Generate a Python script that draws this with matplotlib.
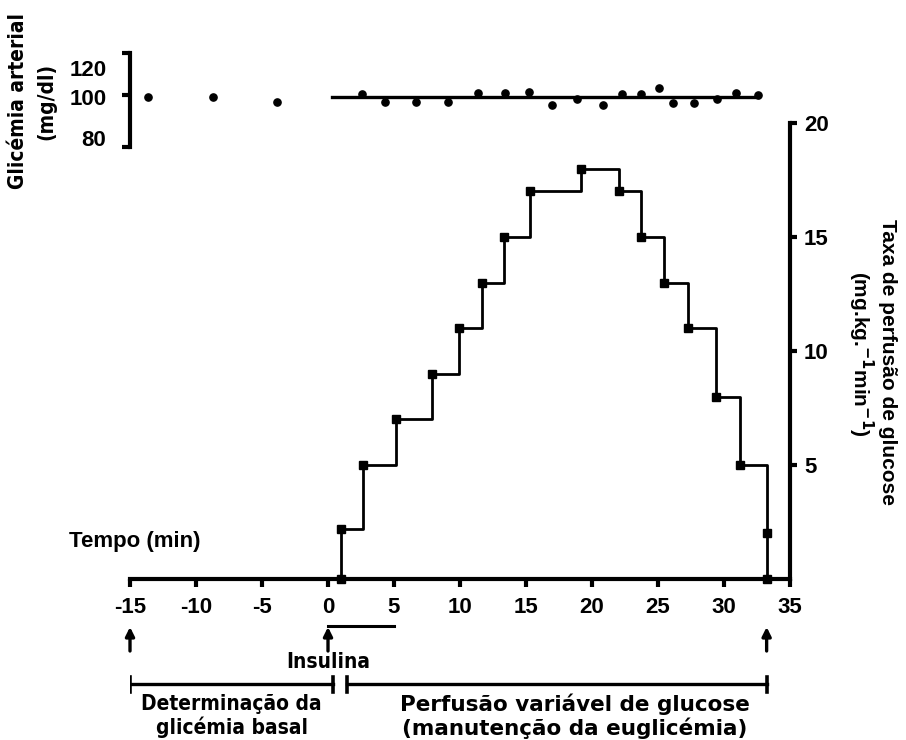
import matplotlib
matplotlib.use("Agg")
import matplotlib.pyplot as plt
from matplotlib.transforms import ScaledTranslation

# glucose infusion rate (mg.kg-1.min-1), steps start at each time point
gir_t = [1.0, 1.0, 2.65, 5.18, 7.88, 9.93, 11.68, 13.37, 15.34, 19.16, 22.04,
         23.68, 25.47, 27.24, 29.39, 31.21, 33.23, 33.23]
gir = [0, 2.2, 5, 7, 9, 11, 13, 15, 17, 18, 17, 15, 13, 11, 8, 5, 2, 0]

# arterial glycaemia (mg/dl)
glyc_t = [-13.6, -8.7, -3.9, 2.6, 4.3, 6.7, 9.1, 11.4, 13.4, 15.2, 17.0, 18.9,
          20.8, 22.3, 23.7, 25.1, 26.1, 27.7, 29.5, 30.9, 32.6]
glyc = [99.2, 99.2, 97.3, 100.4, 97.3, 97.3, 97.3, 100.8, 100.8, 101.2, 96.2,
        98.5, 96.2, 100.4, 100.4, 102.7, 96.9, 96.9, 98.5, 100.8, 100.0]
glyc_target = 99.2
clamp_span = [0.3, 32.6]

x_ticks = [-15, -10, -5, 0, 5, 10, 15, 20, 25, 30, 35]
gir_ticks = [5, 10, 15, 20]
glyc_ticks = [80, 100, 116.2]
glyc_ticklabels = ["80", "100", "120"]

insulin_span = [0, 5]
arrow_t = [-15, 0, 33.23]
basal_span = [-15, 0.38]
infusion_span = [1.44, 33.23]

W, H = 906, 740
bold = dict(family="Liberation Sans", weight="bold")
narrow = dict(family="DejaVu Sans", weight="bold", stretch="condensed")
wide = dict(family="DejaVu Sans", weight="bold")


def fx(px):
    return px / W


def fy(py):
    return 1 - py / H


fig = plt.figure(figsize=(W / 100, H / 100), dpi=100)

# main axes: infusion rate
ax = fig.add_axes([fx(130), fy(579), fx(660), 456 / H])
ax.set_xlim(-15, 35)
ax.set_ylim(0, 20)
ax.plot(gir_t, gir, drawstyle="steps-post", color="k", lw=2.0,
        clip_on=False, zorder=4)
ax.plot(gir_t, gir, ls="none", marker="s", ms=5.5, color="k",
        clip_on=False, zorder=5)

ax.spines["left"].set_visible(False)
ax.spines["top"].set_visible(False)
ax.spines["bottom"].set_linewidth(3)
ax.spines["right"].set_linewidth(3)
ax.spines["bottom"].set_bounds(-15, 35)
ax.spines["right"].set_bounds(0, 20)
ax.yaxis.tick_right()
ax.set_xticks(x_ticks)
ax.set_xticklabels([str(t) for t in x_ticks], **bold, fontsize=16)
ax.set_yticks(gir_ticks)
ax.set_yticklabels([str(t) for t in gir_ticks], **bold, fontsize=16)
ax.tick_params(axis="x", direction="out", length=6, width=3, pad=7)
ax.tick_params(axis="y", direction="out", length=5, width=3, pad=5)
ax.patch.set_visible(False)

# top axes: glycaemia
axg = fig.add_axes([fx(130), fy(147), fx(660), 104 / H])
axg.set_xlim(-15, 35)
axg.set_ylim(80, 120)
axg.plot(clamp_span, [glyc_target, glyc_target], color="k", lw=2.4, zorder=3)
axg.plot(glyc_t, glyc, ls="none", marker="o", ms=5.2, color="k", zorder=4)
for s in ["top", "right", "bottom"]:
    axg.spines[s].set_visible(False)
axg.spines["left"].set_linewidth(3)
axg.spines["left"].set_bounds(80, glyc_ticks[-1])
axg.set_xticks([])
axg.set_yticks(glyc_ticks)
axg.set_yticklabels(glyc_ticklabels, **bold, fontsize=16)
axg.tick_params(axis="y", direction="out", length=6, width=3, pad=11)
for lab, dy in zip(axg.get_yticklabels(), [9, -2, -15]):
    lab.set_transform(lab.get_transform() +
                      ScaledTranslation(0, dy / 100, fig.dpi_scale_trans))
axg.patch.set_visible(False)

# bottom annotation layer (y in pixel rows)
ann = fig.add_axes([fx(130), 0, fx(660), 162 / H])
ann.set_xlim(-15, 35)
ann.set_ylim(740, 578)
ann.axis("off")
for t in arrow_t:
    ann.annotate("", xy=(t, 627), xytext=(t, 651),
                 arrowprops=dict(arrowstyle="-|>", lw=2.4, color="k",
                                 mutation_scale=13, shrinkA=0, shrinkB=0))
ann.plot(insulin_span, [626, 626], color="k", lw=2.2)
for span in (basal_span, infusion_span):
    ann.plot(span, [684, 684], color="k", lw=2.4)
    for t in span:
        ann.plot([t, t], [677, 692], color="k", lw=2.6)
ann.text(0, 662, "Insulina", ha="center", va="center", fontsize=15, **narrow)
ann.text(-7.3, 716, "Determinação da\nglicémia basal", ha="center",
         va="center", fontsize=15, linespacing=1.2, **narrow)
ann.text(18.7, 716, "Perfusão variável de glucose\n(manutenção da euglicémia)",
         ha="center", va="center", fontsize=15.5, linespacing=1.15, **wide)

fig.text(fx(135), fy(541), "Tempo (min)", ha="center", va="center",
         fontsize=16, **bold)
fig.text(fx(18), fy(101), "Glicémia arterial", rotation=90, ha="center",
         va="center", fontsize=15, **narrow)
fig.text(fx(46), fy(101), "(mg/dl)", rotation=90, ha="center",
         va="center", fontsize=15, **narrow)
fig.text(fx(888), fy(362), "Taxa de perfusão de glucose", rotation=270,
         ha="center", va="center", fontsize=15, **bold)
fig.text(fx(861), fy(354), r"(mg.kg.$^{\mathbf{-1}}$min$^{\mathbf{-1}}$)",
         rotation=270, ha="center", va="center", fontsize=15, **bold)

fig.savefig("out.png", dpi=100)
